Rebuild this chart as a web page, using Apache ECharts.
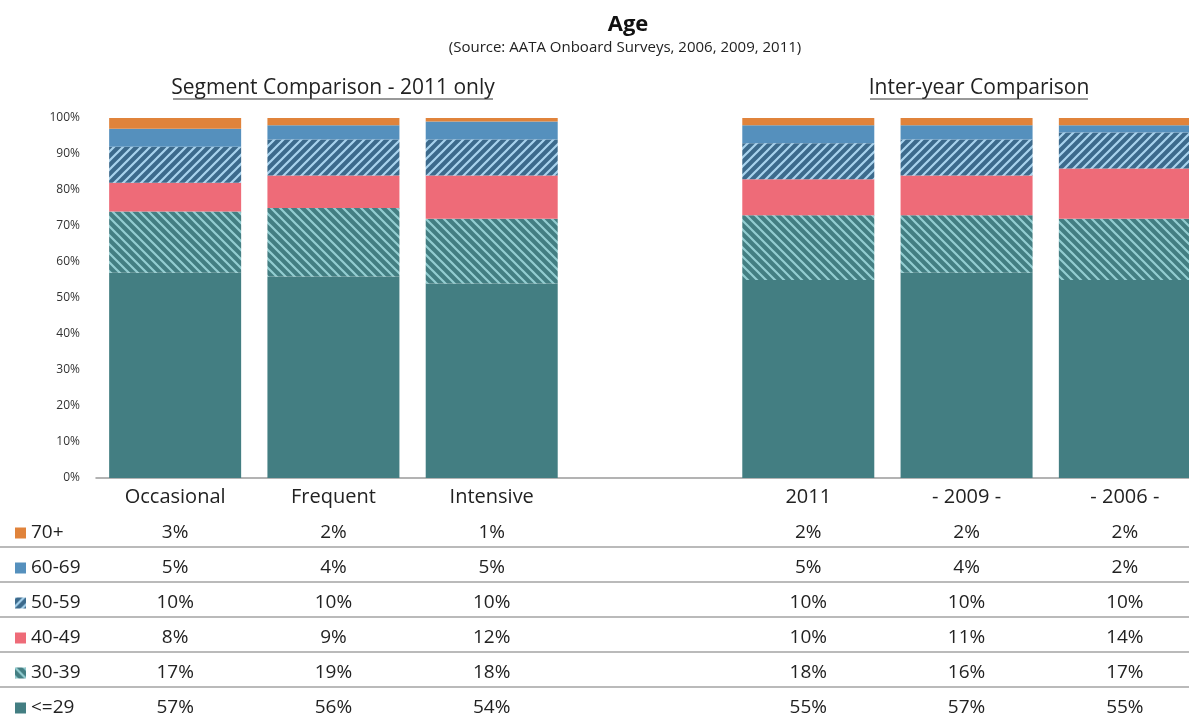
<!DOCTYPE html>
<html>
<head>
<meta charset="utf-8">
<title>Age</title>
<script src="https://cdn.jsdelivr.net/npm/echarts@6/dist/echarts.min.js"></script>
<style>
  html, body { margin: 0; padding: 0; background: #fff; overflow: hidden; }
  #chart { width: 1204px; height: 719px; }
</style>
</head>
<body>
<div id="chart"></div>
<script>
// Columns: rider segments (2011) and survey years
const segments = ['Occasional', 'Frequent', 'Intensive'];
const years = ['2011', '- 2009 -', '- 2006 -'];

// Share of riders per age group, one value per column (segments then years)
const age29 = [57, 56, 54, 55, 57, 55];
const age30 = [17, 19, 18, 18, 16, 17];
const age40 = [8, 9, 12, 10, 11, 14];
const age50 = [10, 10, 10, 10, 10, 10];
const age60 = [5, 4, 5, 5, 4, 2];
const age70 = [3, 2, 1, 2, 2, 2];

// Value axis ticks (percent)
const yMin = 0, yMax = 100, yStep = 10;

const FONT = '"Open Sans", "DejaVu Sans", sans-serif';

// Diagonal stripe fill; dir 'down' draws "\" stripes, 'up' draws "/" stripes
function stripes(base, line, dir) {
  const s = 9;
  const c = document.createElement('canvas');
  c.width = s; c.height = s;
  const g = c.getContext('2d');
  g.fillStyle = base;
  g.fillRect(0, 0, s, s);
  g.strokeStyle = line;
  g.lineWidth = 2.2;
  g.beginPath();
  for (let k = -1; k <= 1; k++) {
    if (dir === 'down') {
      g.moveTo(-1, -1 + k * s);
      g.lineTo(s + 1, s + 1 + k * s);
    } else {
      g.moveTo(-1, s + 1 + k * s);
      g.lineTo(s + 1, -1 + k * s);
    }
  }
  g.stroke();
  return { image: c, repeat: 'repeat' };
}

const groups = [
  { name: '<=29',  values: age29, color: '#437e82' },
  { name: '30-39', values: age30, color: stripes('#437e82', '#93cdd1', 'down') },
  { name: '40-49', values: age40, color: '#ee6b78' },
  { name: '50-59', values: age50, color: stripes('#3c6a8c', '#a9d3ee', 'up') },
  { name: '60-69', values: age60, color: '#5590bd' },
  { name: '70+',   values: age70, color: '#e0833b' }
];

// Table rows are listed from the oldest group down to the youngest
const tableRows = [age70, age60, age50, age40, age30, age29];

// A blank slot separates the segment block from the year block
const axisCats = [...segments, '', ...years];
const withGap = vals => [...vals.slice(0, 3), null, ...vals.slice(3)];
const colOf = idx => (idx < 3 ? idx : idx - 1);

const chart = echarts.init(document.getElementById('chart'), null, { renderer: 'canvas' });

const sepY = [547, 582, 617, 652, 687];

chart.setOption({
  backgroundColor: '#ffffff',
  animation: false,
  textStyle: { fontFamily: FONT },
  grid: { left: 96, right: 0, top: 118, bottom: 241 },
  legend: {
    orient: 'vertical',
    left: 15,
    top: 523,
    padding: 0,
    height: 200,
    selectedMode: false,
    icon: 'rect',
    itemWidth: 11,
    itemHeight: 11,
    itemGap: 15,
    data: ['70+', '60-69', '50-59', '40-49', '30-39', '<=29'],
    textStyle: { fontFamily: FONT, fontSize: 19, color: '#222', lineHeight: 20 }
  },
  xAxis: {
    type: 'category',
    data: axisCats,
    axisLine: { lineStyle: { color: '#9a9a9a', width: 1.5 } },
    axisTick: { show: false },
    axisLabel: {
      interval: 0,
      margin: 1,
      formatter: (value, idx) => {
        if (!value) return '';
        const col = colOf(idx);
        const lines = ['{h|' + value + '}'];
        tableRows.forEach(r => lines.push('{v|' + r[col] + '%}'));
        return lines.join('\n');
      },
      rich: {
        h: { fontFamily: FONT, fontSize: 20, lineHeight: 36, color: '#222' },
        v: { fontFamily: FONT, fontSize: 19, lineHeight: 35, color: '#222' }
      }
    }
  },
  yAxis: {
    type: 'value',
    min: yMin,
    max: yMax,
    interval: yStep,
    axisLine: { show: false },
    axisTick: { show: false },
    splitLine: { show: false },
    axisLabel: { formatter: '{value}%', fontFamily: FONT, fontSize: 12, color: '#333', margin: 16 }
  },
  series: groups.map(gr => ({
    name: gr.name,
    type: 'bar',
    stack: 'age',
    barWidth: 132,
    data: withGap(gr.values),
    itemStyle: { color: gr.color },
    emphasis: { disabled: true }
  })),
  graphic: [
    { type: 'text', x: 628, y: 25, style: { text: 'Age', font: 'bold 22px ' + FONT, fill: '#111', align: 'center', verticalAlign: 'middle' } },
    { type: 'text', x: 625, y: 48, style: { text: '(Source: AATA Onboard Surveys, 2006, 2009, 2011)', font: '15px ' + FONT, fill: '#222', align: 'center', verticalAlign: 'middle' } },
    { type: 'text', x: 333, y: 88, style: { text: 'Segment Comparison - 2011 only', font: '21px ' + FONT, fill: '#222', align: 'center', verticalAlign: 'middle' } },
    { type: 'line', shape: { x1: 173, y1: 99, x2: 493, y2: 99 }, style: { stroke: '#333', lineWidth: 1 } },
    { type: 'text', x: 979, y: 88, style: { text: 'Inter-year Comparison', font: '21px ' + FONT, fill: '#222', align: 'center', verticalAlign: 'middle' } },
    { type: 'line', shape: { x1: 870, y1: 99, x2: 1088, y2: 99 }, style: { stroke: '#333', lineWidth: 1 } },
    ...sepY.map(y => ({ type: 'line', shape: { x1: 0, y1: y, x2: 1189, y2: y }, style: { stroke: '#a3a3a3', lineWidth: 1.5 } }))
  ]
});
</script>
</body>
</html>
